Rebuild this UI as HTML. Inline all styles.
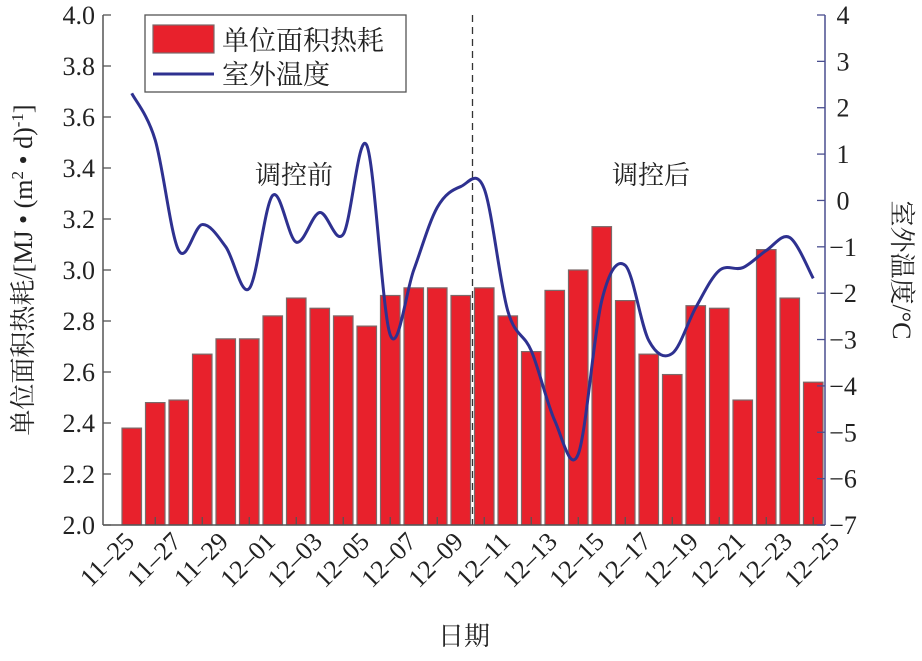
<!DOCTYPE html>
<html><head><meta charset="utf-8"><style>
body{margin:0;background:#fff}
svg text{font-family:"Liberation Serif","Noto Serif CJK SC","Noto Sans CJK SC",serif;fill:#222}
</style></head><body>
<svg id="c" width="922" height="656" viewBox="0 0 922 656"></svg>
<script>
const categories=["11-25","11-26","11-27","11-28","11-29","11-30","12-01","12-02","12-03","12-04","12-05","12-06","12-07","12-08","12-09","12-10","12-11","12-12","12-13","12-14","12-15","12-16","12-17","12-18","12-19","12-20","12-21","12-22","12-23","12-24"];
const heatValues=[2.38,2.48,2.49,2.67,2.73,2.73,2.82,2.89,2.85,2.82,2.78,2.90,2.93,2.93,2.90,2.93,2.82,2.68,2.92,3.00,3.17,2.88,2.67,2.59,2.86,2.85,2.49,3.08,2.89,2.56];
const tempValues=[2.31,1.30,-1.08,-0.52,-1.0,-1.9,0.11,-0.9,-0.26,-0.73,1.19,-2.9,-1.5,-0.15,0.3,0.25,-2.38,-3.24,-4.75,-5.47,-2.16,-1.4,-3.02,-3.3,-2.31,-1.51,-1.45,-1.08,-0.8,-1.68];
const leftTicks=["2.0","2.2","2.4","2.6","2.8","3.0","3.2","3.4","3.6","3.8","4.0"];
const rightTicks=["-7","-6","-5","-4","-3","-2","-1","0","1","2","3","4"];
const xLabels=["11-25","11-27","11-29","12-01","12-03","12-05","12-07","12-09","12-11","12-13","12-15","12-17","12-19","12-21","12-23","12-25"];
const svg=document.getElementById('c');const NS='http://www.w3.org/2000/svg';
function mk(t,a,p){const e=document.createElementNS(NS,t);for(const k in a)e.setAttribute(k,a[k]);(p||svg).appendChild(e);return e;}
const L=103,R=825,T=15,B=525;
const xc=i=>131.75+23.5*i;
const yL=v=>B-(v-2)/2*(B-T);
const yR=v=>B-(v+7)/11*(B-T);
// bars
heatValues.forEach((v,i)=>{const r=mk('rect',{x:xc(i)-9.75,y:yL(v),width:19.5,height:B-yL(v),fill:'#e8212c',stroke:'#7a6a6a','stroke-width':1.2});

});
// divider
const d=mk('line',{x1:472.5,y1:T,x2:472.5,y2:B,stroke:'#333','stroke-width':1.3,'stroke-dasharray':'7,5'});

// temp line (catmull-rom)
const pts=tempValues.map((v,i)=>[xc(i),yR(v)]);
let dp='M'+pts[0][0]+','+pts[0][1];
for(let i=0;i<pts.length-1;i++){const p0=pts[Math.max(0,i-1)],p1=pts[i],p2=pts[i+1],p3=pts[Math.min(pts.length-1,i+2)];
dp+=' C'+(p1[0]+(p2[0]-p0[0])/6)+','+(p1[1]+(p2[1]-p0[1])/6)+' '+(p2[0]-(p3[0]-p1[0])/6)+','+(p2[1]-(p3[1]-p1[1])/6)+' '+p2[0]+','+p2[1];}
const ln=mk('path',{d:dp,fill:'none',stroke:'#2e3190','stroke-width':3});

// axes
mk('line',{x1:L,y1:T,x2:L,y2:B,stroke:'#555','stroke-width':1.5});
mk('line',{x1:L,y1:B,x2:R,y2:B,stroke:'#555','stroke-width':1.5});
mk('line',{x1:R,y1:T,x2:R,y2:B,stroke:'#4a4f8f','stroke-width':1.5});
leftTicks.forEach(t=>{const y=yL(parseFloat(t));mk('line',{x1:L,y1:y,x2:L+8,y2:y,stroke:'#555','stroke-width':1.3});
const e=mk('text',{x:L-8,y:y+9,'text-anchor':'end','font-size':26});e.textContent=t;
});
rightTicks.forEach(t=>{const y=yR(parseFloat(t));mk('line',{x1:R-8,y1:y,x2:R,y2:y,stroke:'#4a4f8f','stroke-width':1.3});
const e=mk('text',{x:R+18,y:y+9,'text-anchor':'middle','font-size':26});e.textContent=t.replace('-','−');
});
xLabels.forEach((t,k)=>{const x=xc(2*k);if(2*k+1<30)mk('line',{x1:xc(2*k+1),y1:B,x2:xc(2*k+1),y2:B-8,stroke:'#555','stroke-width':1.3});
const e=mk('text',{x:x+4,y:B+18,'text-anchor':'end','font-size':26,transform:'rotate(-45 '+(x+4)+' '+(B+18)+')'});e.textContent=t.replace('-','–');
});
</script>
<svg width="922" height="656" style="position:absolute;left:0;top:0">
<text x="294" y="184" text-anchor="middle" font-size="26">调控前</text>
<text x="651" y="184" text-anchor="middle" font-size="26">调控后</text>
<g>
<rect x="145" y="15" width="261" height="77" fill="#fff" stroke="#555" stroke-width="1.3"/>
<rect x="153" y="25" width="61" height="28" fill="#e8212c" stroke="#7a6a6a" stroke-width="1.2"/>
<text x="222" y="50" font-size="27">单位面积热耗</text>
<line x1="153" y1="74" x2="214" y2="74" stroke="#2e3190" stroke-width="3"/>
<text x="222" y="84" font-size="27">室外温度</text>
</g>
<text transform="translate(32 270) rotate(-90)" text-anchor="middle" font-size="26">单位面积热耗/[MJ • (m<tspan dy="-9" font-size="17">2</tspan><tspan dy="9"> • d)</tspan><tspan dy="-9" font-size="17">-1</tspan><tspan dy="9">]</tspan></text>
<text transform="translate(893 270) rotate(90)" text-anchor="middle" font-size="26">室外温度/°C</text>
<text x="464" y="645" text-anchor="middle" font-size="26">日期</text>
</svg>
<style>svg text{font-family:"Liberation Serif","Noto Serif CJK SC","Noto Sans CJK SC",serif;fill:#222}</style>
</body></html>
